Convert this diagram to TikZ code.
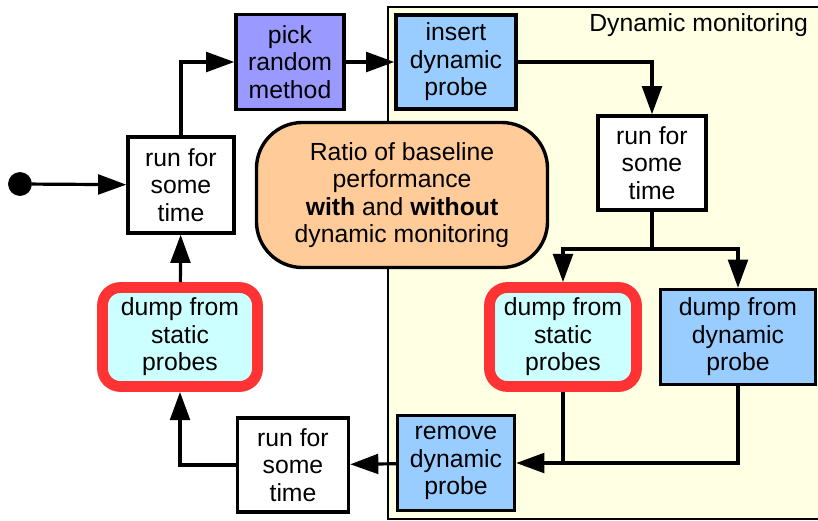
\documentclass[tikz,border=0pt]{standalone}
\usepackage{fontspec}
\setmainfont{Liberation Sans}
\usetikzlibrary{arrows.meta}
\definecolor{pickc}{HTML}{9999FF}
\definecolor{probec}{HTML}{99CCFF}
\definecolor{dumpc}{HTML}{CCFFFF}
\definecolor{ratioc}{HTML}{FFCC99}
\definecolor{monc}{HTML}{FFFFE3}
\definecolor{redc}{HTML}{FF3333}
\tikzset{%
  box/.style={draw,line width=0.085cm,align=center,inner sep=1},
  wbox/.style={box,fill=white},
  pbox/.style={box,fill=pickc},
  bbox/.style={box,fill=probec},
  sbox/.style={draw=redc,line width=0.27cm,rounded corners=0.45cm,fill=dumpc,align=center,
    minimum height=2.475cm},
  obox/.style={box,fill=ratioc,rounded corners=1.15cm},
  flow/.style={line width=0.08cm,-{Triangle[length=20pt,width=14pt]}},
  sdot/.style={draw,shape=circle,fill=black,inner sep=0,minimum size=0.58cm}
}

\begin{document}
\begin{tikzpicture}[x=0.025cm,y=-0.025cm,font=\fontsize{17.6}{19.6}\selectfont]
    \useasboundingbox (0,0) rectangle (818,521);
    % dynamic monitoring area
    \draw[line width=0.07cm,fill=monc] (388,7) rectangle (840,519);
    \node[anchor=east] (montitle) at (813,25) {Dynamic monitoring};

    \node[sdot] (start) at (20,184) {};
    \node[wbox,minimum width=2.65cm,minimum height=2.4cm] (run1) at (181,185) {run for\\some\\time};
    \node[pbox,minimum width=2.7cm,minimum height=2.375cm] (pick) at (290,62) {pick\\random\\method};
    \node[bbox,minimum width=3cm,minimum height=2.35cm] (insert) at (456,62) {insert\\dynamic\\probe};
    \node[wbox,minimum width=2.7cm,minimum height=2.35cm] (run2) at (652,163) {run for\\some\\time};
    \node[obox,minimum width=7.275cm,minimum height=3.625cm] (ratio) at (402,195)
      {Ratio of baseline\\performance\\\textbf{with} and \textbf{without}\\dynamic monitoring};
    \node[sbox,minimum width=3.875cm] (dumpL) at (180,337) {dump from\\static\\probes};
    \node[sbox,minimum width=3.675cm] (dumpR) at (563,337) {dump from\\static\\probes};
    \node[bbox,minimum width=3.875cm,minimum height=2.375cm] (dumpD) at (738,337) {dump from\\dynamic\\probe};
    \node[bbox,minimum width=2.925cm,minimum height=2.375cm] (remove) at (456,463) {remove\\dynamic\\probe};
    \node[wbox,minimum width=2.775cm,minimum height=2.35cm] (run3) at (293,465) {run for\\some\\time};
    \coordinate (split) at (652,249);

    \draw[flow] (start) -- (run1);
    \draw[flow] (run1) |- (pick);
    \draw[flow] (pick) -- (insert);
    \draw[flow] (insert) -| (run2);
    \draw[line width=0.08cm] (run2) -- (split);
    \draw[flow] (split) -| (dumpR);
    \draw[flow] (split) -| (dumpD);
    \draw[line width=0.08cm] (dumpR.south) -- (dumpR.south |- remove.east);
    \draw[flow] (dumpD) |- (remove);
    \draw[flow] (remove) -- (run3);
    \draw[flow] (run3) -| (dumpL);
    \draw[flow] (dumpL) -- (run1);
  \end{tikzpicture}
\end{document}
